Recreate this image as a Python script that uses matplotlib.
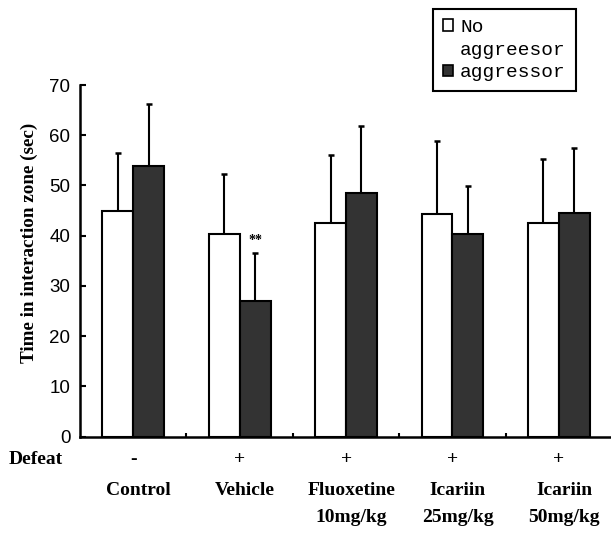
import matplotlib
matplotlib.use("Agg")
import matplotlib.pyplot as plt
from matplotlib.patches import Patch
import numpy as np

groups = ["Control", "Vehicle", "Fluoxetine\n10mg/kg", "Icariin\n25mg/kg", "Icariin\n50mg/kg"]
defeat = ["-", "+", "+", "+", "+"]
no_aggr = [45.0, 40.4, 42.6, 44.4, 42.6]
no_aggr_err = [11.4, 11.9, 13.4, 14.4, 12.7]
aggr = [53.9, 27.0, 48.4, 40.4, 44.6]
aggr_err = [12.3, 9.5, 13.5, 9.4, 12.8]
yticks = [0, 10, 20, 30, 40, 50, 60, 70]

fig = plt.figure(figsize=(6.11, 5.4), dpi=100)
ax = fig.add_axes([80/611, 103.5/540, (610-80)/611, (436.5-85)/540])

x = np.arange(len(groups))
w = 0.29
dark = "#333333"
ax.bar(x - w/2, no_aggr, w, color="white", edgecolor="black", linewidth=1.5, zorder=2)
ax.bar(x + w/2, aggr, w, color=dark, edgecolor="black", linewidth=1.5, zorder=2)
ax.errorbar(x - w/2, no_aggr, yerr=[np.zeros(len(x)), no_aggr_err], fmt="none",
            ecolor="black", elinewidth=1.5, capsize=2.5, capthick=1.8, zorder=1)
ax.errorbar(x + w/2, aggr, yerr=[np.zeros(len(x)), aggr_err], fmt="none",
            ecolor="black", elinewidth=1.5, capsize=2.5, capthick=1.8, zorder=1)

ax.text(1 + w/2, 39.0, "**", ha="center", va="center", fontsize=10,
        family="Liberation Serif", fontweight="bold")

ax.set_ylim(0, 70)
ax.set_xlim(-0.5, 4.48)
ax.set_yticks(yticks)
ax.set_yticklabels([str(t) for t in yticks], family="Liberation Sans", fontsize=13.5)
ax.set_xticks([0.5, 1.5, 2.5, 3.5])
ax.set_xticklabels([])
ax.tick_params(axis="y", direction="in", length=4.5, width=1.5, pad=7)
ax.tick_params(axis="x", direction="in", length=3, width=1.5)
for s in ["top", "right"]:
    ax.spines[s].set_visible(False)
for s in ["left", "bottom"]:
    ax.spines[s].set_linewidth(1.8)

ax.set_ylabel("Time in interaction zone (sec)", family="Liberation Serif",
              fontweight="bold", fontsize=13.8)
ax.yaxis.set_label_coords(-(80-38)/530, (436.5-243)/351.5)

trans = ax.get_xaxis_transform()
fig.text(9/611, 1 - 460/540, "Defeat", ha="left", va="center",
         family="Liberation Serif", fontweight="bold", fontsize=14)
for i in range(len(groups)):
    ax.text(i, -(460-436.5)/351.5, defeat[i], transform=trans, ha="center", va="center",
            family="Liberation Serif", fontweight="bold", fontsize=14)
    ax.text(i + 0.05, -(482-436.5)/351.5, groups[i], transform=trans, ha="center", va="top",
            family="Liberation Serif", fontweight="bold", fontsize=14, linespacing=1.75)

handles = [Patch(facecolor="white", edgecolor="black", linewidth=1.2),
           Patch(facecolor="none", edgecolor="none"),
           Patch(facecolor=dark, edgecolor="black", linewidth=1.2)]
labels = ["No", "aggreesor", "aggressor"]
leg = fig.legend(handles, labels, loc="upper left", bbox_to_anchor=(433/611, 1 - 9/540),
                 bbox_transform=fig.transFigure, borderaxespad=0, fancybox=False,
                 edgecolor="black", framealpha=1, prop={"family": "Liberation Mono", "size": 14},
                 handlelength=0.55, handleheight=0.55, handletextpad=0.35, labelspacing=0.3,
                 borderpad=0.5)
leg.get_frame().set_linewidth(1.5)

fig.savefig("out.png", dpi=100)
